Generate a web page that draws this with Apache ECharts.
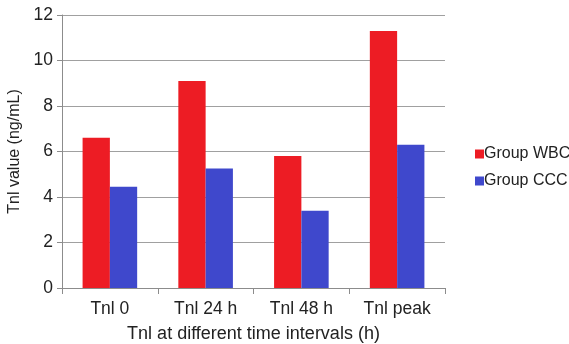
<!DOCTYPE html>
<html>
<head>
<meta charset="utf-8">
<script src="https://cdn.jsdelivr.net/npm/echarts@6/dist/echarts.min.js"></script>
<style>
  html, body { margin: 0; padding: 0; background: #fff; }
  #chart { width: 569px; height: 344px; }
</style>
</head>
<body>
<div id="chart"></div>
<script>
// Troponin I levels by time point for the two groups
const categories = ['Tnl 0', 'Tnl 24 h', 'Tnl 48 h', 'Tnl peak'];
const groupWBC = [6.6, 9.1, 5.8, 11.3];
const groupCCC = [4.45, 5.25, 3.4, 6.3];
const yTicks = { min: 0, max: 12, interval: 2 };

const font = 'Liberation Sans, Arial, Helvetica, sans-serif';
const chart = echarts.init(document.getElementById('chart'), null, { renderer: 'canvas' });

chart.setOption({
  animation: false,
  textStyle: { fontFamily: font },
  grid: { left: 62, right: 124, top: 15, bottom: 56, containLabel: false, outerBoundsMode: 'none' },
  legend: {
    orient: 'vertical',
    left: 470,
    top: 141,
    itemWidth: 9,
    itemHeight: 9,
    itemGap: 11,
    icon: 'rect',
    textStyle: { fontFamily: font, fontSize: 16, color: '#222', padding: [0, 0, 0, -5] },
    data: ['Group WBC', 'Group CCC']
  },
  xAxis: {
    type: 'category',
    data: categories,
    name: 'Tnl at different time intervals (h)',
    nameLocation: 'middle',
    nameGap: 37,
    nameTextStyle: { fontFamily: font, fontSize: 18, color: '#222' },
    axisLine: { lineStyle: { color: '#8c8c8c', width: 1 } },
    axisTick: { show: true, length: 6, lineStyle: { color: '#8c8c8c' } },
    axisLabel: { fontFamily: font, fontSize: 17.5, color: '#222', margin: 12 }
  },
  yAxis: {
    type: 'value',
    min: yTicks.min,
    max: yTicks.max,
    interval: yTicks.interval,
    name: 'Tnl value (ng/mL)',
    nameLocation: 'middle',
    nameGap: 34,
    nameTextStyle: { fontFamily: font, fontSize: 16, color: '#222' },
    axisLine: { show: true, lineStyle: { color: '#8c8c8c', width: 1 } },
    axisTick: { show: true, length: 5, lineStyle: { color: '#8c8c8c' } },
    axisLabel: { fontFamily: font, fontSize: 17.5, color: '#222', margin: 9 },
    splitLine: { lineStyle: { color: '#a0a0a0', width: 1 } }
  },
  series: [
    {
      name: 'Group WBC',
      type: 'bar',
      data: groupWBC,
      barGap: '0%',
      barCategoryGap: '43%',
      itemStyle: { color: '#ED1C24' }
    },
    {
      name: 'Group CCC',
      type: 'bar',
      data: groupCCC,
      itemStyle: { color: '#3F48CC' }
    }
  ]
});
</script>
</body>
</html>
